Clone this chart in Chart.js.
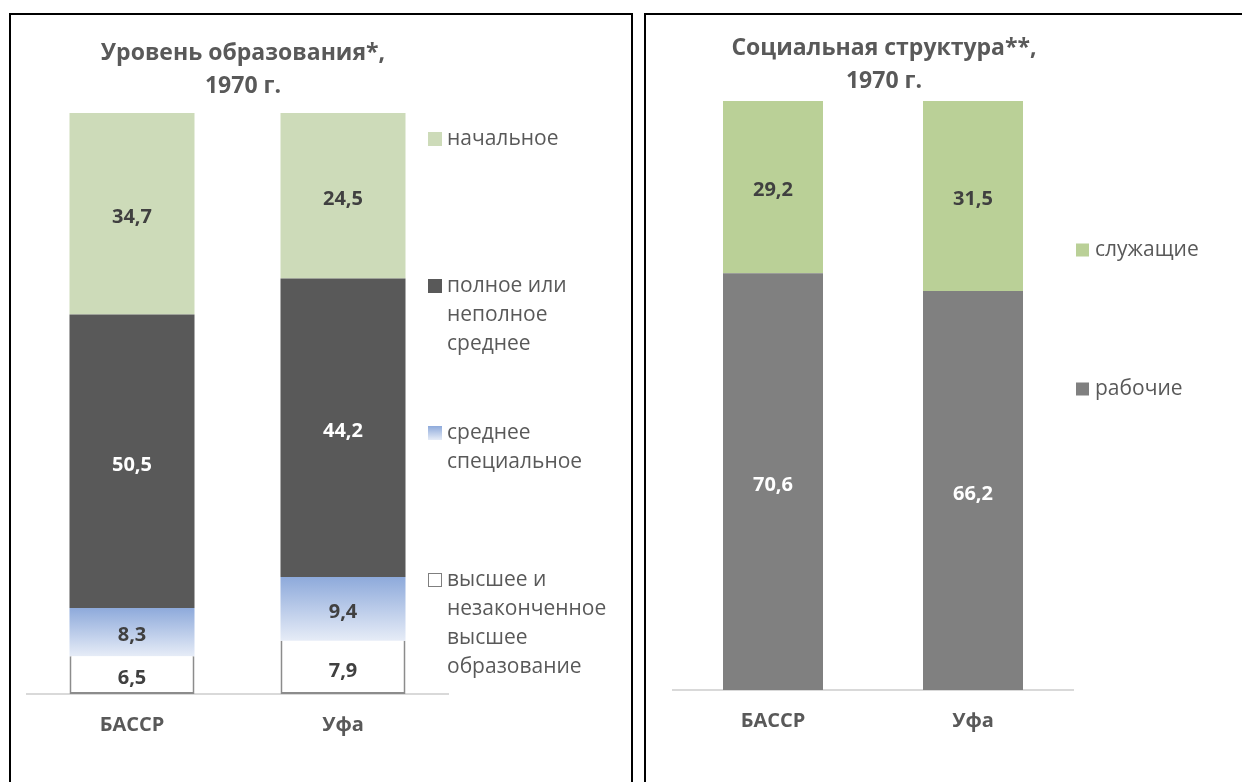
<!DOCTYPE html>
<html><head><meta charset="utf-8">
<script src="https://cdn.jsdelivr.net/npm/chart.js@4.4.1/dist/chart.umd.min.js"></script>
<style>
html,body{margin:0;padding:0;background:#fff;width:1242px;height:782px;overflow:hidden;}
.panel{position:absolute;top:13px;border:2px solid #000;border-bottom:none;height:800px;}
#p1{left:9px;width:620px;}
#p2{left:644px;width:620px;}
canvas{display:block}
</style></head><body>
<div class="panel" id="p1"><canvas id="c1" width="620" height="767"></canvas></div>
<div class="panel" id="p2"><canvas id="c2" width="600" height="767"></canvas></div>
<script>
// ---- data ----
const regions = ['БАССР', 'Уфа'];

const eduTitle = ['Уровень образования*,', '1970 г.'];
const eduSeriesNames = ['высшее и\nнезаконченное\nвысшее\nобразование', 'среднее\nспециальное', 'полное или\nнеполное\nсреднее', 'начальное'];
const eduHigher = [6.5, 7.9];
const eduSpecial = [8.3, 9.4];
const eduSecondary = [50.5, 44.2];
const eduPrimary = [34.7, 24.5];

const socTitle = ['Социальная структура**,', '1970 г.'];
const socSeriesNames = ['рабочие', 'служащие'];
const socWorkers = [70.6, 66.2];
const socEmployees = [29.2, 31.5];

// ---- helpers ----
const FONT = '"Open Sans", "Noto Sans", sans-serif';
const fmt = v => v.toFixed(1).replace('.', ',');
function toPercent(series) {
  const totals = regions.map((_, j) => series.reduce((s, arr) => s + arr[j], 0));
  return series.map(arr => arr.map((v, j) => v / totals[j] * 100));
}
function blueGradient(ctx, yTop, yBottom) {
  const g = ctx.createLinearGradient(0, yTop, 0, yBottom);
  g.addColorStop(0, '#8eaadb');
  g.addColorStop(1, '#e6ecf7');
  return g;
}

const valueLabels = {
  id: 'valueLabels',
  afterDatasetsDraw(chart) {
    const ctx = chart.ctx;
    chart.data.datasets.forEach((ds, i) => {
      const meta = chart.getDatasetMeta(i);
      meta.data.forEach((el, j) => {
        const p = el.getProps(['x', 'y', 'base'], true);
        ctx.save();
        ctx.font = 'bold 20px ' + FONT;
        ctx.fillStyle = ds.labelColor;
        ctx.textAlign = 'center';
        ctx.textBaseline = 'middle';
        ctx.fillText(fmt(ds.values[j]), p.x, (p.y + p.base) / 2 + 3.5);
        ctx.restore();
      });
    });
  }
};

const sideTitle = {
  id: 'sideTitle',
  afterDraw(chart, args, opts) {
    const ctx = chart.ctx;
    ctx.save();
    ctx.font = 'bold 23px ' + FONT;
    ctx.fillStyle = '#595959';
    ctx.textAlign = 'center';
    ctx.textBaseline = 'middle';
    opts.lines.forEach((t, k) => ctx.fillText(t, opts.x, opts.ys[k]));
    ctx.restore();
  }
};

const sideLegend = {
  id: 'sideLegend',
  afterDraw(chart, args, opts) {
    const ctx = chart.ctx;
    ctx.save();
    ctx.font = '21px ' + FONT;
    ctx.textAlign = 'left';
    ctx.textBaseline = 'middle';
    opts.order.forEach((di, k) => {
      const ds = chart.data.datasets[di];
      const y = opts.ys[k];
      const sq = opts.size;
      const sx = opts.squareX, sy = y - sq / 2;
      if (ds.legendKind === 'gradient') {
        ctx.fillStyle = blueGradient(ctx, sy, sy + sq);
        ctx.fillRect(sx, sy, sq, sq);
      } else if (ds.legendKind === 'outline') {
        ctx.fillStyle = '#ffffff';
        ctx.fillRect(sx, sy, sq, sq);
        ctx.strokeStyle = '#7f7f7f';
        ctx.lineWidth = 1;
        ctx.strokeRect(sx + 0.5, sy + 0.5, sq - 1, sq - 1);
      } else {
        ctx.fillStyle = ds.backgroundColor;
        ctx.fillRect(sx, sy, sq, sq);
      }
      ctx.fillStyle = '#595959';
      ds.label.split('\n').forEach((line, n) => ctx.fillText(line, opts.textX, y + n * opts.lineH));
    });
    ctx.restore();
  }
};

function baseOptions(pad, catPct, titleOpts, legendOpts) {
  return {
    responsive: false,
    animation: false,
    layout: { padding: pad },
    datasets: { bar: { categoryPercentage: catPct, barPercentage: 1 } },
    plugins: {
      legend: { display: false },
      tooltip: { enabled: false },
      title: { display: false },
      sideTitle: titleOpts,
      sideLegend: legendOpts
    },
    scales: {
      x: {
        stacked: true,
        grid: { display: false, drawTicks: false },
        border: { display: true, color: '#d9d9d9', width: 2 },
        ticks: { color: '#595959', font: { family: FONT, weight: 'bold', size: 20 }, padding: 19 },
        afterFit(s) { s.height = 60; }
      },
      y: { stacked: true, display: false, min: 0, max: 100 }
    }
  };
}

// ---- chart 1 ----
const eduRaw = [eduHigher, eduSpecial, eduSecondary, eduPrimary];
const eduPct = toPercent(eduRaw);
new Chart(document.getElementById('c1'), {
  type: 'bar',
  data: {
    labels: regions,
    datasets: [
      { label: eduSeriesNames[0], data: eduPct[0], values: eduHigher, labelColor: '#404040',
        backgroundColor: '#ffffff', borderColor: '#8c8c8c', borderWidth: 2, borderSkipped: 'top', legendKind: 'outline' },
      { label: eduSeriesNames[1], data: eduPct[1], values: eduSpecial, labelColor: '#404040', legendKind: 'gradient',
        backgroundColor: (c) => {
          const ch = c.chart;
          const ys = ch.scales && ch.scales.y;
          const j = c.dataIndex;
          if (!ys || j === undefined || !ch.chartArea) return '#b4c7e7';
          const base = eduPct[0][j];
          const top = base + eduPct[1][j];
          const y0 = ys.getPixelForValue(top), y1 = ys.getPixelForValue(base);
          if (!isFinite(y0) || !isFinite(y1)) return '#b4c7e7';
          return blueGradient(ch.ctx, y0, y1);
        } },
      { label: eduSeriesNames[2], data: eduPct[2], values: eduSecondary, labelColor: '#ffffff', backgroundColor: '#595959' },
      { label: eduSeriesNames[3], data: eduPct[3], values: eduPrimary, labelColor: '#404040', backgroundColor: '#cddbb9' }
    ]
  },
  options: baseOptions(
    { left: 15.5, right: 182.5, top: 98, bottom: 28 },
    125 / 211,
    { lines: eduTitle, x: 232, ys: [38, 71] },
    { order: [3, 2, 1, 0], ys: [124, 271, 418, 565], squareX: 417, size: 14, textX: 436, lineH: 29 }
  ),
  plugins: [valueLabels, sideTitle, sideLegend]
});

// ---- chart 2 ----
const socRaw = [socWorkers, socEmployees];
const socPct = toPercent(socRaw);
new Chart(document.getElementById('c2'), {
  type: 'bar',
  data: {
    labels: regions,
    datasets: [
      { label: socSeriesNames[0], data: socPct[0], values: socWorkers, labelColor: '#ffffff', backgroundColor: '#808080' },
      { label: socSeriesNames[1], data: socPct[1], values: socEmployees, labelColor: '#404040', backgroundColor: '#bad097' }
    ]
  },
  options: baseOptions(
    { left: 27, right: 173, top: 86, bottom: 32 },
    0.5,
    { lines: socTitle, x: 238, ys: [33, 66] },
    { order: [1, 0], ys: [235, 374], squareX: 430, size: 13, textX: 449, lineH: 29 }
  ),
  plugins: [valueLabels, sideTitle, sideLegend]
});
</script>
</body></html>
